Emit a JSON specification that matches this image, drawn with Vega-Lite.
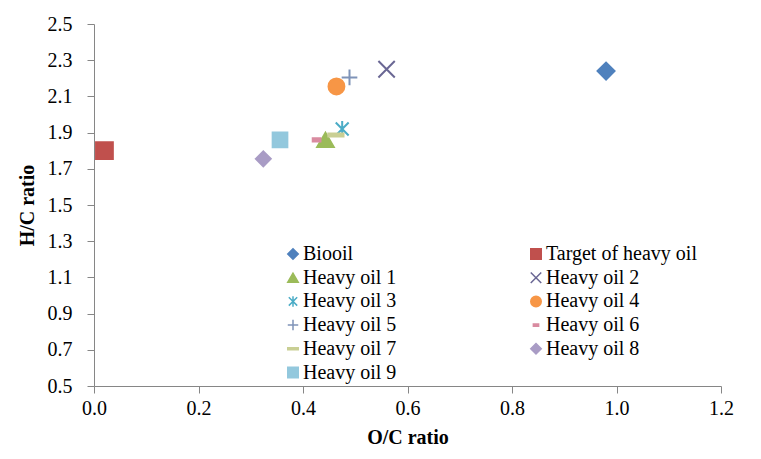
{
  "$schema": "https://vega.github.io/schema/vega-lite/v6.json",
  "width": 627,
  "height": 362,
  "autosize": {"type": "none"},
  "padding": {"left": 94, "top": 24, "right": 40, "bottom": 73},
  "background": "white",
  "config": {
    "font": "Liberation Serif",
    "view": {"stroke": null},
    "axis": {
      "grid": false,
      "labelFlush": false,
      "domainColor": "#868686",
      "tickColor": "#868686",
      "tickSize": 7,
      "labelFont": "Liberation Serif",
      "labelFontSize": 20,
      "labelColor": "black",
      "titleFont": "Liberation Serif",
      "titleFontSize": 20,
      "titleFontWeight": "bold",
      "titleColor": "black"
    },
    "legend": {
      "orient": "none", "legendX": 189, "legendY": 220, "columns": 2, "direction": "horizontal",
      "columnPadding": 129, "rowPadding": 3.7, "labelFont": "Liberation Serif", "labelFontSize": 20,
      "labelColor": "black", "symbolSize": 110, "symbolStrokeWidth": 1.5, "labelOffset": 0, "labelLimit": 300
    }
  },
  "data": {
    "values": [
      {"series": "Biooil", "oc": 0.98, "hc": 2.24},
      {"series": "Target of heavy oil", "oc": 0.02, "hc": 1.80},
      {"series": "Heavy oil 1", "oc": 0.443, "hc": 1.86},
      {"series": "Heavy oil 2", "oc": 0.56, "hc": 2.25},
      {"series": "Heavy oil 3", "oc": 0.475, "hc": 1.92},
      {"series": "Heavy oil 4", "oc": 0.464, "hc": 2.155},
      {"series": "Heavy oil 5", "oc": 0.489, "hc": 2.205},
      {"series": "Heavy oil 6", "oc": 0.426, "hc": 1.86},
      {"series": "Heavy oil 7", "oc": 0.463, "hc": 1.887},
      {"series": "Heavy oil 8", "oc": 0.324, "hc": 1.755},
      {"series": "Heavy oil 9", "oc": 0.356, "hc": 1.86}
    ]
  },
  "mark": {"type": "point", "filled": true, "opacity": 1, "strokeWidth": 2},
  "encoding": {
    "x": {
      "field": "oc", "type": "quantitative",
      "scale": {"domain": [0, 1.2], "nice": false, "zero": false},
      "axis": {"values": [0, 0.2, 0.4, 0.6, 0.8, 1.0, 1.2], "format": ".1f", "title": "O/C ratio", "labelPadding": 5, "titlePadding": 9}
    },
    "y": {
      "field": "hc", "type": "quantitative",
      "scale": {"domain": [0.5, 2.5], "nice": false, "zero": false},
      "axis": {"values": [0.5, 0.7, 0.9, 1.1, 1.3, 1.5, 1.7, 1.9, 2.1, 2.3, 2.5], "format": ".1f", "title": "H/C ratio", "labelPadding": 15, "titlePadding": 10}
    },
    "color": {
      "field": "series", "type": "nominal", "title": null,
      "scale": {
        "domain": ["Biooil", "Target of heavy oil", "Heavy oil 1", "Heavy oil 2", "Heavy oil 3", "Heavy oil 4", "Heavy oil 5", "Heavy oil 6", "Heavy oil 7", "Heavy oil 8", "Heavy oil 9"],
        "range": ["#4F81BD", "#C0504D", "#9BBB59", "#6A6794", "#4BACC6", "#F79646", "#7F93B8", "#D98BA0", "#C9CF94", "#A99CC5", "#93C8DD"]
      },
      "legend": {"labelFont": "Liberation Serif", "labelFontSize": 20}
    },
    "stroke": {
      "field": "series", "type": "nominal", "title": null,
      "scale": {
        "domain": ["Biooil", "Target of heavy oil", "Heavy oil 1", "Heavy oil 2", "Heavy oil 3", "Heavy oil 4", "Heavy oil 5", "Heavy oil 6", "Heavy oil 7", "Heavy oil 8", "Heavy oil 9"],
        "range": ["#4F81BD", "#C0504D", "#9BBB59", "#6A6794", "#4BACC6", "#F79646", "#7F93B8", "#D98BA0", "#C9CF94", "#A99CC5", "#93C8DD"]
      },
      "legend": {"labelFont": "Liberation Serif", "labelFontSize": 20}
    },
    "shape": {
      "field": "series", "type": "nominal", "title": null,
      "scale": {
        "domain": ["Biooil", "Target of heavy oil", "Heavy oil 1", "Heavy oil 2", "Heavy oil 3", "Heavy oil 4", "Heavy oil 5", "Heavy oil 6", "Heavy oil 7", "Heavy oil 8", "Heavy oil 9"],
        "range": ["diamond", "square", "triangle-up", "M-1,-1L1,1M-1,1L1,-1", "M-0.8,-0.8L0.8,0.8M-0.8,0.8L0.8,-0.8M0,-1L0,1", "circle", "M-1,0L1,0M0,-1L0,1", "M-0.5,-0.2L0.5,-0.2L0.5,0.2L-0.5,0.2Z", "M-1,-0.2L1,-0.2L1,0.2L-1,0.2Z", "diamond", "square"]
      },
      "legend": {"labelFont": "Liberation Serif", "labelFontSize": 20}
    },
    "size": {
      "field": "series", "type": "nominal",
      "scale": {
        "domain": ["Heavy oil 9", "Heavy oil 8", "Heavy oil 7", "Heavy oil 6", "Heavy oil 5", "Heavy oil 4", "Heavy oil 3", "Heavy oil 2", "Heavy oil 1", "Target of heavy oil", "Biooil"],
        "range": [216, 289, 121, 100, 169, 169, 196, 225, 289, 210, 196]
      },
      "legend": null
    }
  }
}
